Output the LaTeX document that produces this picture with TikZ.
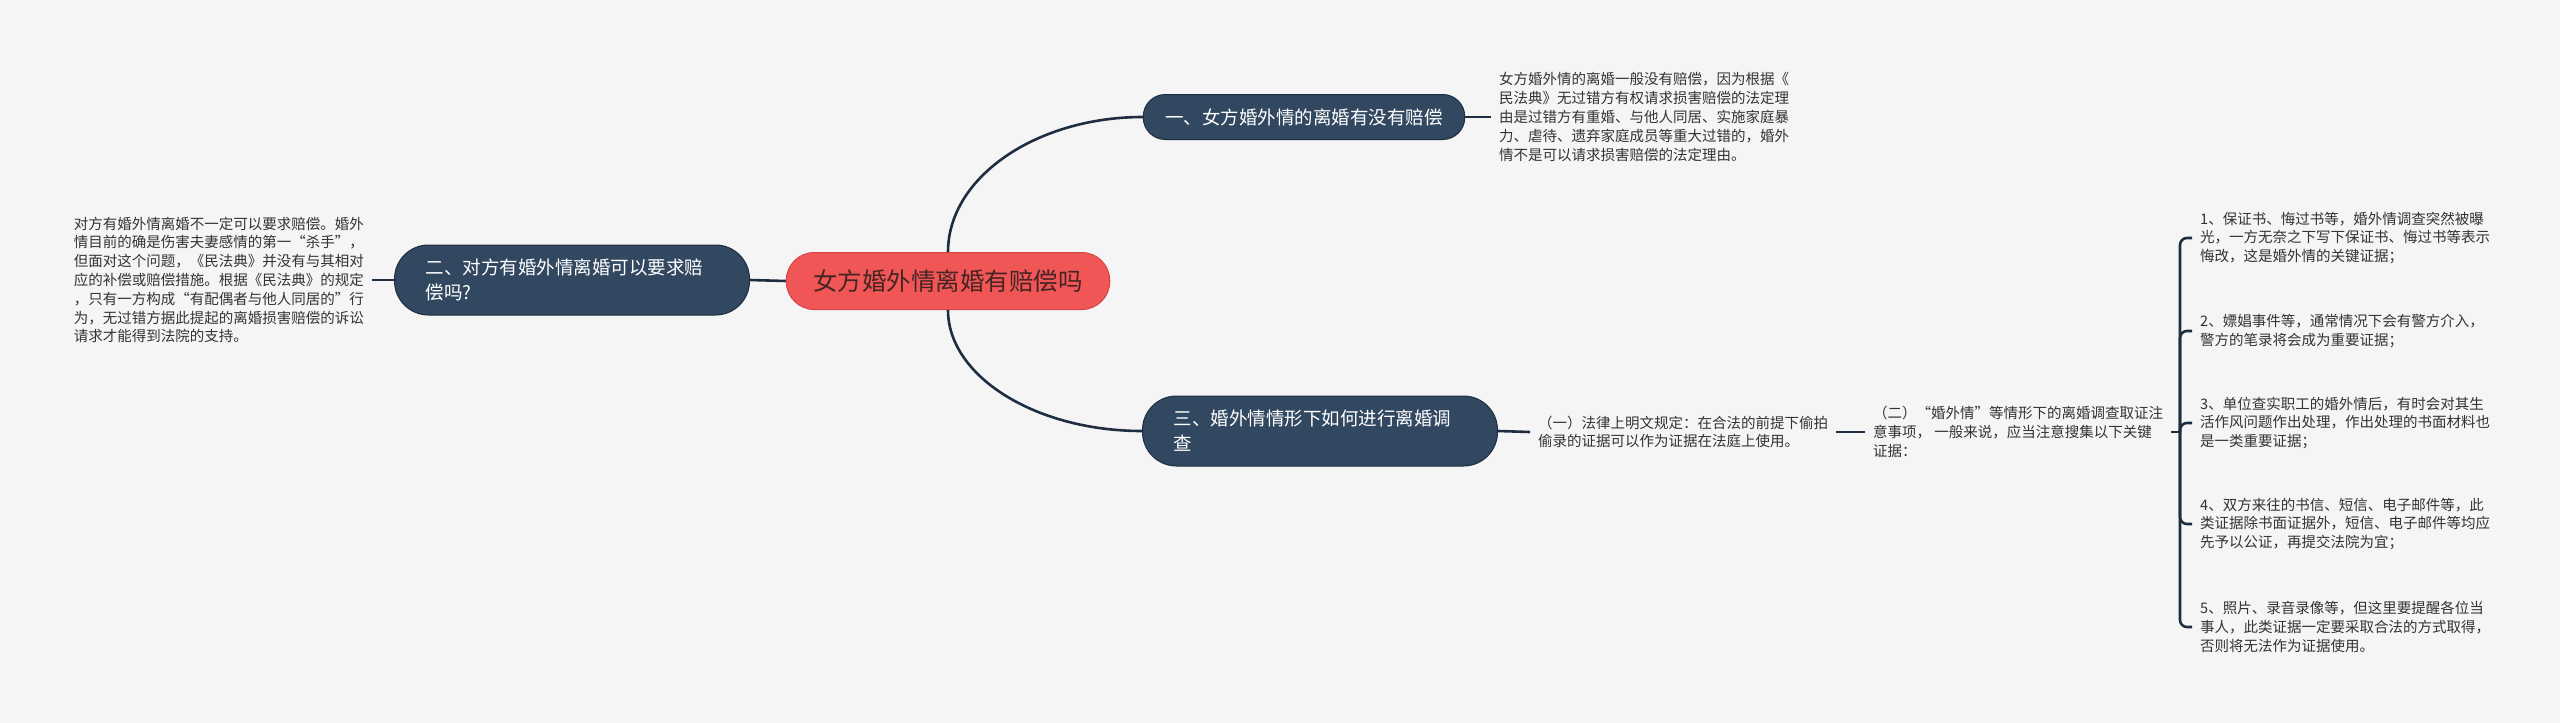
\documentclass[tikz,border=0pt]{standalone}
\usepackage{fontspec}
\setmainfont{Noto Sans CJK SC}
\usepackage{tikz}
\definecolor{PageGray}{RGB}{245,245,245}
\definecolor{BranchNavy}{RGB}{50,72,96}
\definecolor{LinkNavy}{RGB}{30,46,64}
\definecolor{RootRed}{RGB}{240,86,86}
\definecolor{RootEdge}{RGB}{214,70,70}
\definecolor{RootText}{RGB}{70,36,36}
\definecolor{LeafText}{RGB}{51,51,51}
\newcommand{\rootfont}{\fontsize{24.5pt}{30pt}\selectfont}
\newcommand{\branchfont}{\fontsize{18.5pt}{25pt}\selectfont}
\newcommand{\leaffont}{\fontsize{14.5pt}{18.8pt}\selectfont}

\begin{document}
\begin{tikzpicture}[x=1pt, y=-1pt,
	link/.style={draw=LinkNavy, line width=2.6pt},
	rootnode/.style={fill=RootRed, draw=RootEdge, line width=1pt, text=RootText,
		font=\rootfont, rounded corners=28pt, minimum height=57pt, inner xsep=27pt},
	branch/.style={fill=BranchNavy, draw=LinkNavy, line width=1pt, text=white,
		font=\branchfont, rounded corners=22pt, minimum height=45pt, inner xsep=22pt},
	bigbranch/.style={branch, rounded corners=34pt, minimum height=70pt,
		inner xsep=31pt, text width=293pt, align=left},
	leaf/.style={text=LeafText, font=\leaffont, align=left, inner xsep=8pt}]
	% 背景
	\fill[PageGray] (0,0) rectangle (2560,723);
	% 中心主题
	\node[rootnode] (root) at (948,281) {女方婚外情离婚有赔偿吗};
	% 一级分支
	\node[branch] (n1) at (1304,117) {一、女方婚外情的离婚有没有赔偿};
	\node[bigbranch] (n2) at (572,280) {二、对方有婚外情离婚可以要求赔\\偿吗?};
	\node[bigbranch] (n3) at (1320,431) {三、婚外情情形下如何进行离婚调\\查};
	% 说明文字
	\node[leaf, anchor=west] (leaf1) at (1491,117)
		{女方婚外情的离婚一般没有赔偿，因为根据《\\民法典》无过错方有权请求损害赔偿的法定理\\
		由是过错方有重婚、与他人同居、实施家庭暴\\力、虐待、遗弃家庭成员等重大过错的，婚外\\
		情不是可以请求损害赔偿的法定理由。};
	\node[leaf, anchor=east] (leaf2) at (372,280)
		{对方有婚外情离婚不一定可以要求赔偿。婚外\\情目前的确是伤害夫妻感情的第一“杀手”，\\
		但面对这个问题，《民法典》并没有与其相对\\应的补偿或赔偿措施。根据《民法典》的规定\\
		，只有一方构成“有配偶者与他人同居的”行\\为，无过错方据此提起的离婚损害赔偿的诉讼\\
		请求才能得到法院的支持。};
	\node[leaf, anchor=west] (leaf3) at (1530,432)
		{（一）法律上明文规定：在合法的前提下偷拍\\偷录的证据可以作为证据在法庭上使用。};
	\node[leaf, anchor=west] (leaf4) at (1865,432)
		{（二）“婚外情”等情形下的离婚调查取证注\\意事项， 一般来说，应当注意搜集以下关键\\证据：};
	% 关键证据
	\node[leaf, anchor=west] (item1) at (2192,238)
		{1、保证书、悔过书等，婚外情调查突然被曝\\光，一方无奈之下写下保证书、悔过书等表示\\悔改，这是婚外情的关键证据；};
	\node[leaf, anchor=west] (item2) at (2192,331)
		{2、嫖娼事件等，通常情况下会有警方介入，\\警方的笔录将会成为重要证据；};
	\node[leaf, anchor=west] (item3) at (2192,423)
		{3、单位查实职工的婚外情后，有时会对其生\\活作风问题作出处理，作出处理的书面材料也\\是一类重要证据；};
	\node[leaf, anchor=west] (item4) at (2192,524)
		{4、双方来往的书信、短信、电子邮件等，此\\类证据除书面证据外，短信、电子邮件等均应\\先予以公证，再提交法院为宜；};
	\node[leaf, anchor=west] (item5) at (2192,627)
		{5、照片、录音录像等，但这里要提醒各位当\\事人，此类证据一定要采取合法的方式取得，\\否则将无法作为证据使用。};
	% 连线
	\draw[link] (root.north) .. controls +(0,-75) and +(-106,0) .. (n1.west);
	\draw[link] (root.south) .. controls +(0,66) and +(-107,0) .. (n3.west);
	\draw[link] (root.west) -- (n2.east);
	\draw[link] (n1.east) -- (leaf1.west);
	\draw[link] (n2.west) -- (leaf2.east);
	\draw[link] (n3.east) -- (leaf3.west);
	\draw[link] (leaf3.east) -- (leaf4.west);
	\coordinate (fork) at (2180,432);
	\draw[link] (leaf4.east) -- (fork);
	\foreach \k in {1,...,5}
		\draw[link, rounded corners=7pt] (fork) |- (item\k.west);
\end{tikzpicture}
\end{document}
